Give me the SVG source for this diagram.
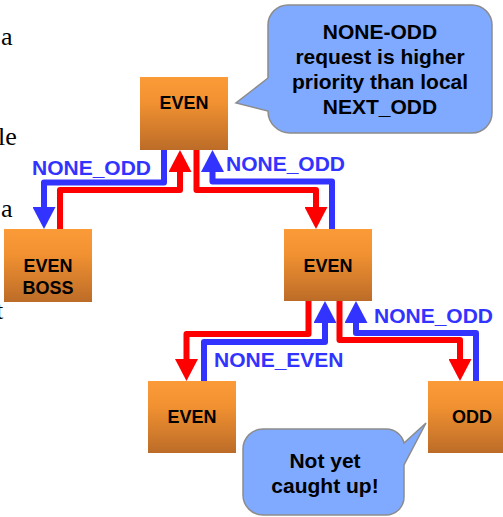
<svg xmlns="http://www.w3.org/2000/svg" width="503" height="517" viewBox="0 0 503 517">
  <defs>
    <linearGradient id="nodeFill" x1="0" y1="0" x2="0" y2="1">
      <stop offset="0" stop-color="#FB9B38"/>
      <stop offset="0.35" stop-color="#F19131"/>
      <stop offset="1" stop-color="#BC6C28"/>
    </linearGradient>
    <marker id="arrowRed" markerUnits="userSpaceOnUse" viewBox="0 0 22 23" markerWidth="22" markerHeight="23" refX="2" refY="11.5" orient="auto">
      <path d="M0,0 L22,11.5 L0,23 Z" fill="#FF0000"/>
    </marker>
    <marker id="arrowBlue" markerUnits="userSpaceOnUse" viewBox="0 0 22 23" markerWidth="22" markerHeight="23" refX="2" refY="11.5" orient="auto">
      <path d="M0,0 L22,11.5 L0,23 Z" fill="#3333FF"/>
    </marker>
  </defs>
  <style>
    .node rect { fill: url(#nodeFill); }
    .node text { font-family: "Liberation Sans", Arial, sans-serif; font-weight: bold; font-size: 18px; fill: #000; text-anchor: middle; }
    .wire { fill: none; stroke-width: 6; stroke-linejoin: round; }
    .red { stroke: #FF0000; marker-end: url(#arrowRed); }
    .blue { stroke: #3333FF; marker-end: url(#arrowBlue); }
    .label { font-family: "Liberation Sans", Arial, sans-serif; font-weight: bold; font-size: 21px; fill: #3333FF; }
    .callout path { fill: #80AAFF; stroke: #8C8C8C; stroke-width: 1.5; }
    .callout text { font-family: "Liberation Sans", Arial, sans-serif; font-weight: bold; font-size: 21px; fill: #000; text-anchor: middle; }
    .page { font-family: "Liberation Serif", "Times New Roman", serif; font-size: 26px; fill: #000; }
  </style>

  <!-- fragments of surrounding page text at the left margin -->
  <g id="page-text" class="page">
    <text x="1" y="45">a</text>
    <text x="-2" y="145">le</text>
    <text x="1" y="217">a</text>
    <text x="-4" y="319">t</text>
  </g>

  <!-- connectors -->
  <g id="connectors">
    <path class="wire blue" d="M164,150 V182.5 H44 V209"/>
    <path class="wire red" d="M60,229 V190 H180 V170"/>
    <path class="wire red" d="M196.5,150 V190 H316 V209"/>
    <path class="wire blue" d="M332,229 V181.5 H212.5 V170"/>
    <path class="wire red" d="M308.5,301 V334 H186.5 V361"/>
    <path class="wire blue" d="M204,381 V342 H325 V321"/>
    <path class="wire red" d="M339.5,301 V340 H460 V361"/>
    <path class="wire blue" d="M476,381 V333 H356 V321"/>
    <text class="label" x="32" y="175">NONE_ODD</text>
    <text class="label" x="226" y="171">NONE_ODD</text>
    <text class="label" x="214" y="367">NONE_EVEN</text>
    <text class="label" x="374" y="323">NONE_ODD</text>
  </g>

  <!-- nodes -->
  <g id="even-top" class="node">
    <rect x="140" y="77" width="88" height="73"/>
    <text x="184" y="109">EVEN</text>
  </g>
  <g id="even-boss" class="node">
    <rect x="4" y="229" width="88" height="73"/>
    <text x="48" y="272">EVEN</text>
    <text x="48" y="294">BOSS</text>
  </g>
  <g id="even-mid" class="node">
    <rect x="284" y="229" width="88" height="72"/>
    <text x="328" y="272">EVEN</text>
  </g>
  <g id="even-left" class="node">
    <rect x="148" y="381" width="88" height="72"/>
    <text x="192" y="423">EVEN</text>
  </g>
  <g id="odd" class="node">
    <rect x="428" y="381" width="88" height="72"/>
    <text x="472" y="423">ODD</text>
  </g>

  <!-- callouts -->
  <g id="callout-priority" class="callout">
    <path d="M290,5 H472 A20,20 0 0 1 492,25 V113 A20,20 0 0 1 472,133 H290 A22,22 0 0 1 268,111 L236,103 L268,78 V25 A20,20 0 0 1 288,5 Z"/>
    <text x="380" y="39">NONE-ODD</text>
    <text x="380" y="64">request is higher</text>
    <text x="380" y="89">priority than local</text>
    <text x="380" y="114">NEXT_ODD</text>
  </g>
  <g id="callout-catchup" class="callout">
    <path d="M263,429 H386 A18,18 0 0 1 404,443 L426,423 L404,465 V497 A18,18 0 0 1 386,515 H263 A20,20 0 0 1 243,495 V449 A20,20 0 0 1 263,429 Z"/>
    <text x="325" y="468">Not yet</text>
    <text x="325" y="493">caught up!</text>
  </g>
</svg>
